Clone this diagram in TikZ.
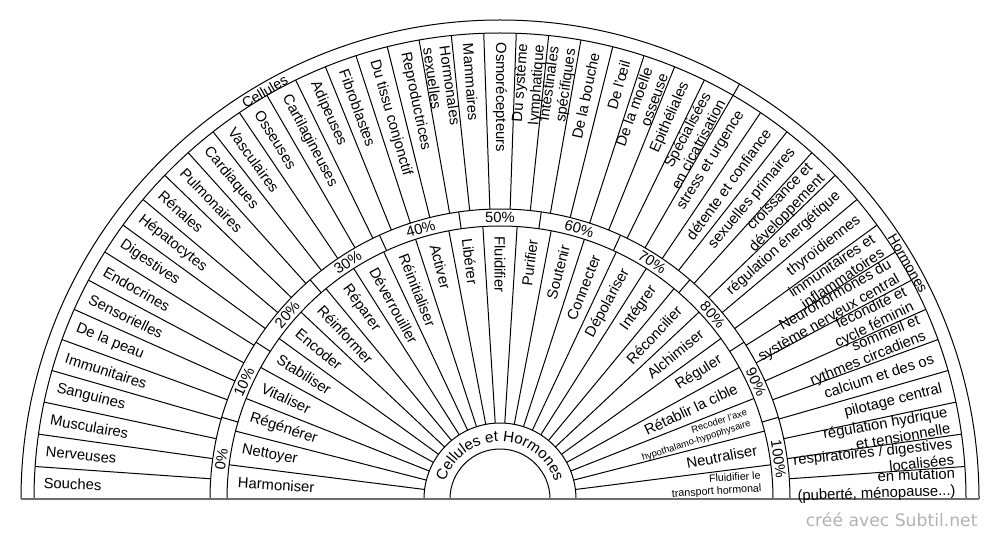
\documentclass[tikz,border=0pt]{standalone}
\usepackage{fontspec}
\setmainfont{Liberation Sans}
\newfontfamily\markfont{DejaVu Sans}
\usepackage{tikz}
\usetikzlibrary{calc,decorations.text}
\definecolor{mybaseline}{RGB}{110,110,110}
\definecolor{mylightgray}{RGB}{178,178,178}
\tikzset{every picture/.style={line width=0.75pt}}
\tikzset{
  leftlab/.style={inner sep=0pt, anchor=west, align=left, font=\fontsize{11.1}{12.4}\selectfont},
  rightlab/.style={inner sep=0pt, anchor=east, align=right, font=\fontsize{11.1}{12.4}\selectfont},
  smalllab/.style={rightlab, font=\fontsize{8}{9.4}\selectfont},
  tinylab/.style={rightlab, font=\fontsize{7.1}{8.4}\selectfont},
  pctlab/.style={inner sep=0pt, font=\fontsize{11.1}{12.4}\selectfont},
}

\begin{document}
\begin{tikzpicture}[x=0.75pt,y=0.75pt]
\useasboundingbox (0,0) rectangle (1000,540);
\coordinate (C) at (500,41);
%Shape: Arcs
\foreach \r in {50,76,273,290,466,479}
  \draw ($(C)+(180:\r)$) arc[start angle=180, end angle=0, radius=\r];
%Straight Lines [outer ring]
\foreach \k in {1,...,44}
  \draw ($(C)+({180-4*\k}:290)$) -- ($(C)+({180-4*\k}:466)$);
%Straight Lines [inner ring]
\foreach \k in {1,...,24}
  \draw ($(C)+({180-7.2*\k}:76)$) -- ($(C)+({180-7.2*\k}:273)$);
%Straight Lines [percent band]
\foreach \k in {1,...,10}
  \draw ($(C)+({180-180/11*\k}:273)$) -- ($(C)+({180-180/11*\k}:290)$);
%Straight Lines [top band]
\draw ($(C)+(60:466)$) -- ($(C)+(60:479)$);
%Straight Lines [base]
\draw [color=mybaseline, line width=1.1pt] ($(C)+(180:479)$) -- ($(C)+(0:479)$);

%Text: outer ring
\foreach \txt [count=\i] in {Souches,Nerveuses,Musculaires,Sanguines,Immunitaires,De la peau,Sensorielles,Endocrines,Digestives,Hépatocytes,Rénales,Pulmonaires,Cardiaques,Vasculaires,Osseuses,Cartilagineuses,Adipeuses,Fibroblastes,Du tissu conjonctif,Reproductrices,Hormonales\\sexuelles,Mammaires,Osmorécepteurs}
  \node [leftlab, rotate=2-4*\i] (cell\i) at ($(C)+({182-4*\i}:457)$) {\txt};
\foreach \txt [count=\i from 24] in {Du système\\lymphatique,Intestinales\\spécifiques,De la bouche,De l'œil,De la moelle\\osseuse,Epithéliales,Spécialisées\\en cicatrisation,stress et urgence,détente et confiance,sexuelles primaires,croissance et\\développement,régulation énergétique,thyroïdiennes,immunitaires et\\inflammatoires,Neurohormones du\\système nerveux central,fécondité et\\cycle féminin,sommeil et\\rythmes circadiens,calcium et des os,pilotage central,régulation hydrique\\et tensionnelle,respiratoires / digestives\\localisées,{en mutation\\(puberté, ménopause..{}.)}}
  \node [rightlab, rotate=182-4*\i] (cell\i) at ($(C)+({182-4*\i}:456)$) {\txt};

%Text: inner ring
\foreach \txt [count=\j] in {Harmoniser,Nettoyer,Régénérer,Vitaliser,Stabiliser,Encoder,Réinformer,Réparer,Déverrouiller,Réinitialiser,Activer,Libérer,Fluidifier}
  \node [leftlab, rotate=3.6-7.2*\j] (verb\j) at ($(C)+({183.6-7.2*\j}:263)$) {\txt};
\foreach \txt/\sty [count=\j from 14] in {Purifier/rightlab,Soutenir/rightlab,Connecter/rightlab,Dépolariser/rightlab,Intégrer/rightlab,Réconcilier/rightlab,Alchimiser/rightlab,Réguler/rightlab,Rétablir la cible/rightlab,Recoder l'axe\\hypothalamo-hypophysaire/tinylab,Neutraliser/rightlab,Fluidifier le\\transport hormonal/smalllab}
  \node [\sty, rotate=183.6-7.2*\j] (verb\j) at ($(C)+({183.6-7.2*\j}:262)$) {\txt};

%Text: percent band
\foreach \p [count=\k from 0] in {0,10,...,100}
  \node [pctlab, rotate={90-180/11*(\k+0.5)}] (pct\k) at ($(C)+({180-180/11*(\k+0.5)}:281.5)$) {\p\%};

%Text: top band
\node [pctlab, font=\fontsize{10.6}{12}\selectfont, rotate=30] (cellules) at ($(C)+(120:470.5)$) {Cellules};
\node [pctlab, font=\fontsize{10.6}{12}\selectfont, rotate=-60] (hormones) at ($(C)+(30:471)$) {Hormones};

%Text: hub
\path [decorate, decoration={text along path, text align=center, text={|\fontsize{11.4}{13}\selectfont|Cellules et Hormones}}] ($(C)+(180:57.5)$) arc[start angle=180, end angle=0, radius=57.5];

%Text: credit
\node [anchor=base east, inner sep=0pt, text=mylightgray, font=\markfont\fontsize{12.9}{15}\selectfont] (credit) at (978,13.3) {créé avec Subtil.net};
\end{tikzpicture}
\end{document}
